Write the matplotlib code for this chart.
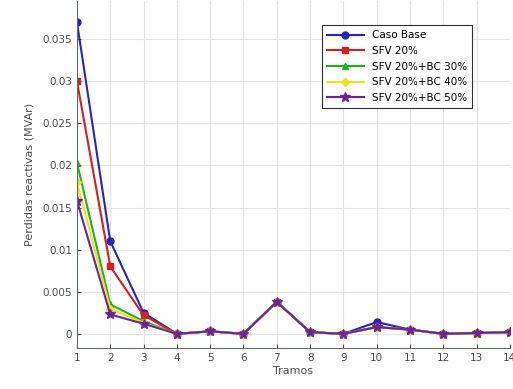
import numpy as np
import matplotlib.pyplot as plt

tramos = np.arange(1, 15)

caso_base = [0.0370, 0.0110, 0.0025, 0.0000, 0.0003, 0.0000, 0.0038,
             0.0002, 0.0000, 0.0014, 0.0005, 0.0000, 0.0001, 0.0002]
sfv_20 = [0.0300, 0.0080, 0.0022, 0.0000, 0.0003, 0.0000, 0.0038,
          0.0002, 0.0000, 0.0008, 0.0005, 0.0000, 0.0001, 0.0002]
sfv_bc30 = [0.0203, 0.0035, 0.0015, 0.0000, 0.0003, 0.0000, 0.0038,
            0.0002, 0.0000, 0.0008, 0.0005, 0.0000, 0.0001, 0.0002]
sfv_bc40 = [0.0180, 0.0030, 0.0013, 0.0000, 0.0003, 0.0000, 0.0038,
            0.0002, 0.0000, 0.0008, 0.0005, 0.0000, 0.0001, 0.0002]
sfv_bc50 = [0.0158, 0.0023, 0.0012, 0.0000, 0.0003, 0.0000, 0.0038,
            0.0002, 0.0000, 0.0008, 0.0005, 0.0000, 0.0001, 0.0002]

labels = ['Caso Base', 'SFV 20%', 'SFV 20%+BC 30%', 'SFV 20%+BC 40%', 'SFV 20%+BC 50%']

fig = plt.figure(figsize=(5.13, 3.89), dpi=100)
ax = fig.add_axes([0.150, 0.105, 0.844, 0.892])

series = [
    (caso_base, '#2626b8', 'o', 5),
    (sfv_20, '#d42020', 's', 4.5),
    (sfv_bc30, '#20b020', '^', 5),
    (sfv_bc40, '#f0e020', 'D', 4.5),
    (sfv_bc50, '#6c2496', '*', 7),
]
for (vals, col, mk, ms), lab in zip(series, labels):
    ax.plot(tramos, vals, color=col, marker=mk, markersize=ms, linewidth=1.5,
            label=lab)

ax.set_xlim(1, 14)
ax.set_ylim(-0.0017, 0.0395)
ax.set_xticks(tramos)
ax.set_yticks([0, 0.005, 0.01, 0.015, 0.02, 0.025, 0.03, 0.035])
ax.set_yticklabels(['0', '0.005', '0.01', '0.015', '0.02', '0.025', '0.03', '0.035'])
ax.tick_params(labelsize=7.5, colors='#4a4a4a', length=3, direction='in')
ax.grid(True, color='#e4e4e4', linewidth=0.8)
ax.set_axisbelow(True)
for s in ['top', 'right']:
    ax.spines[s].set_visible(False)
for s in ['bottom', 'left']:
    ax.spines[s].set_color('#607060')

ax.set_xlabel('Tramos', fontsize=8, color='#4a4a4a', labelpad=2)
ax.set_ylabel('Perdidas reactivas (MVAr)', fontsize=8, color='#4a4a4a', labelpad=6)

leg = ax.legend(loc='upper right', bbox_to_anchor=(0.925, 0.945), fontsize=7.5,
                fancybox=False, framealpha=1, edgecolor='#303030',
                handlelength=3.6, borderpad=0.45, labelspacing=0.55)
leg.get_frame().set_linewidth(0.8)

fig.savefig('out.png', dpi=100)
